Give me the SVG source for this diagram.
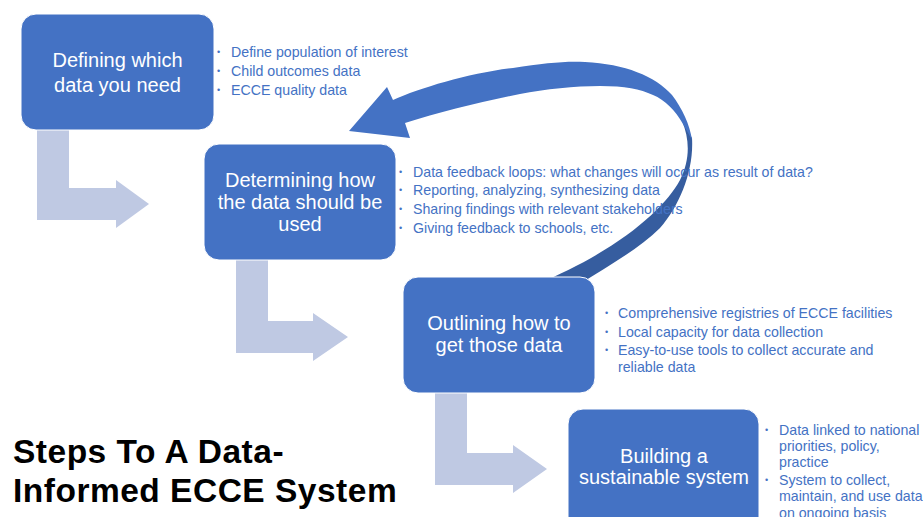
<svg xmlns="http://www.w3.org/2000/svg" width="923" height="517" viewBox="0 0 923 517">
  <style>
    .box { fill: #4472C4; stroke: #ffffff; stroke-width: 1; }
    .step { fill: #BFC9E3; }
    .label { font-family: "Liberation Sans", Arial, sans-serif; font-size: 20px; fill: #ffffff; text-anchor: middle; }
    .item { font-family: "Liberation Sans", Arial, sans-serif; font-size: 14.2px; fill: #4472C4; }
    .dot { font-family: "Liberation Sans", Arial, sans-serif; font-size: 9px; fill: #4472C4; }
    .title { font-family: "Liberation Sans", Arial, sans-serif; font-size: 33.5px; font-weight: bold; letter-spacing: 0.5px; fill: #000000; }
  </style>

  <rect width="923" height="517" fill="#ffffff"/>

  <!-- connectors: bent step arrows and the feedback loop -->
  <g id="connectors">
    <path class="step" d="M37,130 L69,130 L69,188 L116,188 L116,180 L149,204 L116,228 L116,220 L37,220 Z"/>
    <path class="step" d="M236,260 L268,260 L268,321 L313,321 L313,313 L348,337 L313,361 L313,353 L236,353 Z"/>
    <path class="step" d="M435,393 L467,393 L467,453 L513,453 L513,445 L547,469 L513,493 L513,485 L435,485 Z"/>
    <!-- feedback loop: back face of the ribbon -->
    <path fill="#365D9F" d="M682,121 C690,140 690,160 680,180 C665,208 620,250 535,285 L578,285 C610,265 640,248 660,228 C680,205 694,170 692,138 Z"/>
    <!-- feedback loop: front face with arrowhead -->
    <path fill="#4472C4" d="M349,131 L387,87 L393,100 C420,88 470,73 513,68 C545,63 565,61 585,62 C625,64 655,76 672,95 C682,108 690,125 692,140 L683,124 C675,110 665,100 653,95 C640,89 625,86 600,86 C575,86 545,89 520,94 C480,102 440,112 405,123 L410,138 Z"/>
  </g>

  <g id="step-define">
    <rect class="box" x="21" y="14" width="193" height="116" rx="15"/>
    <text class="label" x="117.5" y="67" font-size="22">Defining which</text>
    <text class="label" x="117.5" y="92" font-size="22">data you need</text>
    <text class="dot" x="217" y="55">•</text>
    <text class="item" x="231" y="57">Define population of interest</text>
    <text class="dot" x="217" y="74">•</text>
    <text class="item" x="231" y="76">Child outcomes data</text>
    <text class="dot" x="217" y="93">•</text>
    <text class="item" x="231" y="95">ECCE quality data</text>
  </g>

  <g id="step-use">
    <rect class="box" x="204" y="144" width="192" height="116" rx="15"/>
    <text class="label" x="300" y="187">Determining how</text>
    <text class="label" x="300" y="209">the data should be</text>
    <text class="label" x="300" y="231">used</text>
    <text class="dot" x="399" y="175">•</text>
    <text class="item" x="413" y="177">Data feedback loops: what changes will occur as result of data?</text>
    <text class="dot" x="399" y="193">•</text>
    <text class="item" x="413" y="195">Reporting, analyzing, synthesizing data</text>
    <text class="dot" x="399" y="212">•</text>
    <text class="item" x="413" y="214">Sharing findings with relevant stakeholders</text>
    <text class="dot" x="399" y="231">•</text>
    <text class="item" x="413" y="233">Giving feedback to schools, etc.</text>
  </g>

  <g id="step-collect">
    <rect class="box" x="403" y="277" width="192" height="116" rx="15"/>
    <text class="label" x="499" y="330">Outlining how to</text>
    <text class="label" x="499" y="352">get those data</text>
    <text class="dot" x="605" y="316">•</text>
    <text class="item" x="618" y="318">Comprehensive registries of ECCE facilities</text>
    <text class="dot" x="605" y="335">•</text>
    <text class="item" x="618" y="337">Local capacity for data collection</text>
    <text class="dot" x="605" y="353">•</text>
    <text class="item" x="618" y="355">Easy-to-use tools to collect accurate and</text>
    <text class="item" x="618" y="372">reliable data</text>
  </g>

  <g id="step-sustain">
    <rect class="box" x="568" y="409" width="191" height="130" rx="15"/>
    <text class="label" x="664" y="463">Building a</text>
    <text class="label" x="664" y="484">sustainable system</text>
    <text class="dot" x="765" y="433">•</text>
    <text class="item" x="779" y="435">Data linked to national</text>
    <text class="item" x="779" y="451">priorities, policy,</text>
    <text class="item" x="779" y="467">practice</text>
    <text class="dot" x="765" y="483">•</text>
    <text class="item" x="779" y="485">System to collect,</text>
    <text class="item" x="779" y="501">maintain, and use data</text>
    <text class="item" x="779" y="518">on ongoing basis</text>
  </g>

  <g id="title">
    <text class="title" x="13" y="463">Steps To A Data-</text>
    <text class="title" x="13" y="502">Informed ECCE System</text>
  </g>
</svg>
